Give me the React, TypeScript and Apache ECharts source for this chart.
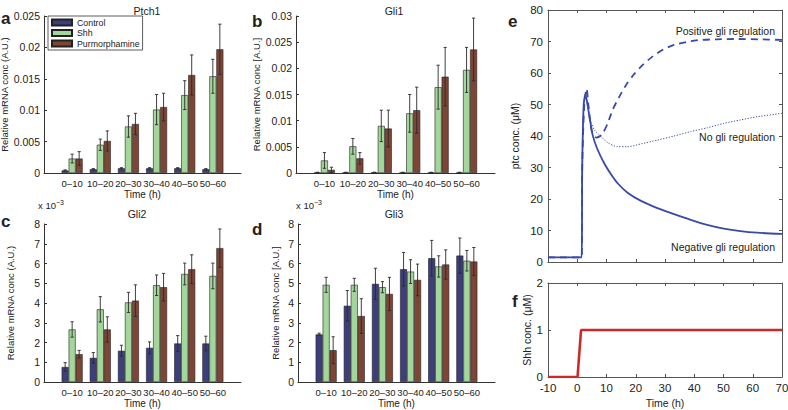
import React, { useEffect, useRef } from 'react';
import * as echarts from 'echarts';

const FONT = '"Liberation Sans", Arial, Helvetica, sans-serif';
const TXT = '#222';
const AX = '#333';
const BLUE = '#3a4aa8';
const RED = '#cc2a2a';

const timeBins = ['0–10', '10–20', '20–30', '30–40', '40–50', '50–60'];
const groupNames = ['Control', 'Shh', 'Purmorphamine'];
const groupColors = ['#3d3f7c', '#a3d69a', '#7e4535'];

// Ptch1 (A.U.)
const ptch1Control = [0.0004, 0.0006, 0.00075, 0.00075, 0.00075, 0.0006];
const ptch1ControlErr = [0.0001, 0.0001, 0.0001, 0.0001, 0.0001, 0.0001];
const ptch1Shh = [0.0023, 0.0045, 0.0074, 0.0101, 0.0124, 0.0154];
const ptch1ShhErr = [0.0007, 0.0009, 0.0017, 0.0024, 0.0023, 0.0027];
const ptch1Pur = [0.0023, 0.0051, 0.0078, 0.0105, 0.0156, 0.0197];
const ptch1PurErr = [0.0011, 0.0016, 0.0017, 0.0022, 0.0032, 0.004];

// Gli1 (A.U.)
const gli1Control = [0.0001, 0.0001, 0.0001, 0.0001, 0.0001, 0.0001];
const gli1ControlErr = [0.00005, 0.00005, 0.00005, 0.00005, 0.00005, 0.00005];
const gli1Shh = [0.0024, 0.0051, 0.009, 0.0114, 0.0164, 0.0197];
const gli1ShhErr = [0.0015, 0.0015, 0.003, 0.0036, 0.0042, 0.0043];
const gli1Pur = [0.0006, 0.0028, 0.0085, 0.012, 0.0184, 0.0236];
const gli1PurErr = [0.0005, 0.0011, 0.0035, 0.0044, 0.0056, 0.006];

// Gli2 (x 10^-3 A.U.)
const gli2Control = [0.76, 1.22, 1.58, 1.73, 1.95, 1.95];
const gli2ControlErr = [0.22, 0.27, 0.28, 0.3, 0.4, 0.37];
const gli2Shh = [2.66, 3.68, 4.03, 4.9, 5.47, 5.37];
const gli2ShhErr = [0.39, 0.64, 0.51, 0.52, 0.55, 0.65];
const gli2Pur = [1.41, 2.66, 4.12, 4.8, 5.71, 6.78];
const gli2PurErr = [0.19, 0.64, 0.8, 0.7, 0.73, 0.97];

// Gli3 (x 10^-3 A.U.)
const gli3Control = [2.41, 3.86, 4.97, 5.71, 6.27, 6.4];
const gli3ControlErr = [0.06, 0.77, 0.79, 0.85, 0.9, 0.89];
const gli3Shh = [4.92, 4.92, 4.8, 5.59, 5.85, 6.14];
const gli3ShhErr = [0.38, 0.33, 0.28, 0.6, 0.54, 0.52];
const gli3Pur = [1.61, 3.34, 4.46, 5.17, 5.95, 6.1];
const gli3PurErr = [0.68, 0.88, 0.84, 0.8, 0.74, 0.71];

// Simulation, ptc conc. (uM) vs time (h): [t, value]
const negativeGli = [
  [-10, 1.5], [1.5, 1.5], [1.7, 30], [2.2, 50], [2.8, 53.2], [3.4, 50.5], [4.2, 46], [5.3, 40.2],
  [6.9, 35.8], [9.3, 31.2], [11.6, 27.8], [13.8, 25.0], [17.2, 22.0], [21.8, 19.4], [27.4, 17.1],
  [33.1, 15.2], [38.8, 13.4], [44.4, 11.8], [50.1, 10.6], [55.8, 9.8], [61.5, 9.3], [70, 8.9],
];
const positiveGli = [
  [-10, 1.5], [1.5, 1.5], [1.7, 30], [2.4, 50], [3.2, 55], [3.8, 50], [4.5, 44], [5.3, 40.5],
  [6.5, 39.5], [7.5, 39.8], [8.7, 40.8], [10.4, 44.0], [12.1, 48.3], [14.4, 52.5], [16.7, 56.2],
  [19.5, 59.7], [22.3, 62.5], [25.7, 65.2], [29.1, 67.3], [33.1, 68.9], [37.6, 69.9], [42.2, 70.5],
  [47.8, 70.7], [55, 70.8], [62, 70.7], [70, 70.5],
];
const noGli = [
  [-10, 1.5], [1.5, 1.5], [1.7, 30], [2.2, 50], [2.9, 53], [3.5, 50], [4.5, 45], [5.9, 41.9],
  [8.2, 39.8], [10.4, 37.9], [13.8, 36.6], [17.2, 36.6], [21.8, 37.5], [27.4, 38.7], [33.1, 40.0],
  [38.8, 41.4], [44.4, 42.6], [50.1, 44.0], [55.8, 45.1], [61.5, 46.1], [70, 47.2],
];
// Shh conc. (uM)
const shhInput = [[-10, 0], [0.1, 0], [1.3, 1], [70, 1]];

const ptcTicks = { min: 0, max: 80, interval: 10 };
const shhTicks = { min: 0, max: 2, interval: 1 };
const simTime = { min: -10, max: 70, interval: 10 };

export default function App() {
  const ref = useRef<HTMLDivElement>(null);

  useEffect(() => {
    document.body.style.margin = '0';
    const chart = echarts.init(ref.current!, null, { renderer: 'svg' });

    const grids = [
      { left: 44, top: 16, width: 197, height: 157 },
      { left: 296, top: 16, width: 199, height: 157 },
      { left: 44, top: 224, width: 197, height: 158 },
      { left: 298, top: 224, width: 197, height: 158 },
      { left: 548, top: 10, width: 234, height: 252 },
      { left: 548, top: 283, width: 234, height: 94 },
    ].map((g) => ({ ...g, outerBoundsMode: 'none', containLabel: false }));

    const barX = (gridIndex: number) => ({
      type: 'value', gridIndex, min: 0, max: 7, interval: 1,
      axisLine: { show: true, onZero: false, lineStyle: { color: AX, width: 1 } },
      axisTick: { show: false }, splitLine: { show: false },
      axisLabel: {
        formatter: (v: number) => timeBins[v - 1] ?? '', fontSize: 9.5, color: TXT, margin: 5, fontFamily: FONT,
      },
      name: 'Time (h)', nameLocation: 'middle', nameGap: 16,
      nameTextStyle: { fontSize: 10, color: TXT, fontFamily: FONT },
    });
    const barY = (gridIndex: number, max: number, interval: number, name: string, nameGap: number) => ({
      type: 'value', gridIndex, min: 0, max, interval,
      axisLine: { show: true, onZero: false, lineStyle: { color: AX, width: 1 } },
      axisTick: { show: true, inside: true, length: 3, lineStyle: { color: AX } },
      splitLine: { show: false },
      axisLabel: { fontSize: 10.5, color: TXT, margin: 4, fontFamily: FONT },
      name, nameLocation: 'middle', nameGap, nameRotate: 90,
      nameTextStyle: { fontSize: 9.5, color: TXT, fontFamily: FONT },
    });
    const simAxis = (gridIndex: number, range: any, pos: string, showLabels: boolean, name?: string, nameGap?: number) => ({
      type: 'value', gridIndex, position: pos, ...range,
      axisLine: { show: true, onZero: false, lineStyle: { color: '#555', width: 1 } },
      axisTick: { show: true, inside: true, length: 3, lineStyle: { color: '#555' } },
      splitLine: { show: false },
      axisLabel: { show: showLabels, fontSize: 11.5, color: TXT, margin: 5, fontFamily: FONT },
      name: name ?? '', nameLocation: 'middle', nameGap: nameGap ?? 0,
      nameRotate: pos === 'left' ? 90 : 0,
      nameTextStyle: { fontSize: 10.5, color: TXT, fontFamily: FONT },
    });

    const xAxis = [
      barX(0), barX(1), barX(2), barX(3),
      simAxis(4, simTime, 'bottom', false),
      simAxis(4, simTime, 'top', false),
      simAxis(5, simTime, 'bottom', true, 'Time (h)', 20),
      simAxis(5, simTime, 'top', false),
    ];
    const yAxis = [
      barY(0, 0.025, 0.005, 'Relative mRNA conc (A.U.)', 29),
      barY(1, 0.03, 0.005, 'Relative mRNA conc [A.U.]', 33),
      barY(2, 8, 1, 'Relative mRNA conc (A.U.)', 29),
      barY(3, 8, 1, 'Relative mRNA conc [A.U.]', 18),
      simAxis(4, ptcTicks, 'left', true, 'ptc conc. (\u03bcM)', 28),
      simAxis(4, ptcTicks, 'right', false),
      simAxis(5, shhTicks, 'left', true, 'Shh conc. (\u03bcM)', 16),
      simAxis(5, shhTicks, 'right', false),
    ];

    const panels = [
      [[ptch1Control, ptch1ControlErr], [ptch1Shh, ptch1ShhErr], [ptch1Pur, ptch1PurErr]],
      [[gli1Control, gli1ControlErr], [gli1Shh, gli1ShhErr], [gli1Pur, gli1PurErr]],
      [[gli2Control, gli2ControlErr], [gli2Shh, gli2ShhErr], [gli2Pur, gli2PurErr]],
      [[gli3Control, gli3ControlErr], [gli3Shh, gli3ShhErr], [gli3Pur, gli3PurErr]],
    ];
    const BW = 7;
    const series: any[] = [];
    panels.forEach((groups, g) => {
      groups.forEach(([means], k) => {
        series.push({
          type: 'bar', name: groupNames[k], xAxisIndex: g, yAxisIndex: g,
          data: means.map((m, i) => [i + 1, m]),
          barWidth: BW, barGap: '0%',
          itemStyle: { color: groupColors[k], borderColor: '#222', borderWidth: 0.6 },
          z: 2,
        });
      });
      groups.forEach(([means, errs], k) => {
        const offset = (k - 1) * BW;
        series.push({
          type: 'custom', name: groupNames[k] + ' error', xAxisIndex: g, yAxisIndex: g, z: 5, silent: true,
          data: means.map((m, i) => [i + 1, m, errs[i]]),
          renderItem: (_p: any, api: any) => {
            const x = api.value(0), m = api.value(1), e = api.value(2);
            const top = api.coord([x, m + e]);
            const bot = api.coord([x, Math.max(0, m - e)]);
            const cx = top[0] + offset;
            const cap = 1.6;
            const style = { stroke: '#2a2a2a', lineWidth: 0.9 };
            return {
              type: 'group', children: [
                { type: 'line', shape: { x1: cx, y1: top[1], x2: cx, y2: bot[1] }, style },
                { type: 'line', shape: { x1: cx - cap, y1: top[1], x2: cx + cap, y2: top[1] }, style },
                { type: 'line', shape: { x1: cx - cap, y1: bot[1], x2: cx + cap, y2: bot[1] }, style },
              ],
            };
          },
        });
      });
    });

    series.push(
      {
        type: 'line', name: 'Negative gli regulation', xAxisIndex: 4, yAxisIndex: 4, data: negativeGli,
        showSymbol: false, symbol: 'none', smooth: 0.25, lineStyle: { color: BLUE, width: 1.8 }, z: 3,
      },
      {
        type: 'line', name: 'Positive gli regulation', xAxisIndex: 4, yAxisIndex: 4, data: positiveGli,
        showSymbol: false, symbol: 'none', smooth: 0.25, lineStyle: { color: BLUE, width: 1.8, type: [7, 5] }, z: 3,
      },
      {
        type: 'line', name: 'No gli regulation', xAxisIndex: 4, yAxisIndex: 4, data: noGli,
        showSymbol: false, symbol: 'none', smooth: 0.25, lineStyle: { color: BLUE, width: 1, type: [1.2, 1.6] }, z: 3,
      },
      {
        type: 'line', name: 'Shh', xAxisIndex: 6, yAxisIndex: 6, data: shhInput,
        showSymbol: false, symbol: 'none', lineStyle: { color: RED, width: 2.6 }, z: 3,
      },
    );

    const text = (x: number, y: number, t: string, size: number, extra: any = {}) => ({
      type: 'text', x, y, silent: true,
      style: {
        text: t, fill: TXT, fontSize: size, fontFamily: FONT,
        textAlign: extra.align ?? 'left', textVerticalAlign: extra.valign ?? 'middle',
        fontWeight: extra.weight ?? 'normal', rich: extra.rich,
      },
    });
    const letter = (x: number, y: number, t: string) =>
      text(x, y, t, 17, { weight: 'bold', valign: 'alphabetic' });
    const sup = { s: { fontSize: 7, fontFamily: FONT, fill: TXT, verticalAlign: 'top', padding: [0, 0, 5, 0] } };

    const graphic = [
      letter(1, 10, 'a'), letter(252, 13, 'b'), letter(1, 213, 'c'), letter(252, 221, 'd'),
      letter(508, 13, 'e'), letter(512, 293, 'f'),
      text(147, 11, 'Ptch1', 10.5, { align: 'center' }),
      text(394, 11, 'Gli1', 10.5, { align: 'center' }),
      text(137, 214, 'Gli2', 10.5, { align: 'center' }),
      text(394, 214, 'Gli3', 10.5, { align: 'center' }),
      text(38, 205, 'x 10{s|\u22123}', 9.5, { rich: sup }),
      text(296, 205, 'x 10{s|\u22123}', 9.5, { rich: sup }),
      text(775, 31, 'Positive gli regulation', 10.5, { align: 'right' }),
      text(775, 137, 'No gli regulation', 10.5, { align: 'right' }),
      text(775, 247, 'Negative gli regulation', 10.5, { align: 'right' }),
    ];

    chart.setOption({
      animation: false,
      backgroundColor: '#fff',
      textStyle: { fontFamily: FONT },
      grid: grids,
      xAxis, yAxis, series, graphic,
      legend: {
        left: 48, top: 16, orient: 'vertical', data: groupNames, selectedMode: false,
        itemWidth: 20, itemHeight: 6, itemGap: 1.5, padding: [2, 3, 2, 3],
        borderColor: '#333', borderWidth: 0.8, backgroundColor: '#fff', icon: 'rect',
        textStyle: { fontSize: 8.8, lineHeight: 8, color: TXT, fontFamily: FONT },
      },
    });

    return () => chart.dispose();
  }, []);

  return <div ref={ref} style={{ width: 788, height: 410 }} />;
}
